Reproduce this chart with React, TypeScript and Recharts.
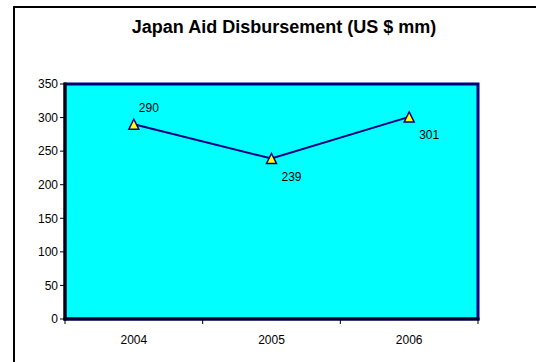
import { LineChart, Line, XAxis, YAxis, ReferenceArea } from 'recharts';

const years = ['2004', '2005', '2006'];
const disbursement = [290, 239, 301];
const yTicks = [0, 50, 100, 150, 200, 250, 300, 350];

const FONT = "'Liberation Sans', Arial, Helvetica, sans-serif";
const NAVY = '#000080';

const chartData = years.map((year, i) => ({ year, value: disbursement[i] }));

function TriangleDot(props: any) {
  const { cx, cy, index } = props;
  if (cx == null || cy == null) return null;
  const s = 5;
  const pts = `${cx},${cy - s} ${cx + s},${cy + s} ${cx - s},${cy + s}`;
  return <polygon key={`dot-${index}`} points={pts} fill="#ffff00" stroke={NAVY} strokeWidth={1.5} />;
}

function PointLabel(props: any) {
  const { x, y, value, index } = props;
  // first point's label sits above the marker, the rest sit below
  const above = index === 0;
  return (
    <text
      x={x + (above ? 5 : 10)}
      y={y + (above ? -12 : 22)}
      fontSize={12}
      fontFamily={FONT}
      fill="#000"
    >
      {value}
    </text>
  );
}

// category label in the band centre, tick marks on the band edges (Excel style)
function YearTick(props: any) {
  const { x, y, payload, index, width, visibleTicksCount } = props;
  const half = width / (2 * (visibleTicksCount || years.length));
  return (
    <g>
      {index === 0 && <line x1={x - half} x2={x - half} y1={y - 15} y2={y - 11} stroke="#000" />}
      <line x1={x + half} x2={x + half} y1={y - 15} y2={y - 11} stroke="#000" />
      <text x={x} y={y} dy="0.71em" textAnchor="middle" fontSize={12} fontFamily={FONT} fill="#000">
        {payload.value}
      </text>
    </g>
  );
}

export default function App() {
  return (
    <div
      style={{
        position: 'absolute',
        left: 0,
        top: 0,
        width: 536,
        height: 362,
        overflow: 'hidden',
        background: '#fff',
        fontFamily: FONT,
      }}
    >
      <div
        style={{
          position: 'absolute',
          left: 13,
          top: 6,
          width: 600,
          height: 500,
          border: '2px solid #000',
        }}
      />
      <div
        style={{
          position: 'absolute',
          left: 0,
          top: 17,
          width: 568,
          textAlign: 'center',
          fontSize: 18,
          fontWeight: 'bold',
          color: '#000',
        }}
      >
        Japan Aid Disbursement (US $ mm)
      </div>
      <LineChart
        width={536}
        height={362}
        data={chartData}
        margin={{ top: 84, right: 58, left: 0, bottom: 0 }}
        style={{ position: 'absolute', left: 0, top: 0 }}
      >
        <ReferenceArea
          x1={years[0]}
          x2={years[years.length - 1]}
          y1={0}
          y2={350}
          fill="#00ffff"
          fillOpacity={1}
          stroke={NAVY}
          strokeWidth={3}
        />
        <XAxis
          dataKey="year"
          scale="band"
          height={43}
          axisLine={{ stroke: '#00002a', strokeWidth: 3, strokeLinecap: 'square' }}
          tickLine={false}
          tickSize={0}
          tickMargin={16}
          tick={YearTick}
        />
        <YAxis
          domain={[0, 350]}
          ticks={yTicks}
          width={65}
          interval={0}
          axisLine={{ stroke: '#000010', strokeWidth: 3, strokeLinecap: 'square' }}
          tickLine={{ stroke: '#000', strokeWidth: 1 }}
          tickSize={5}
          tickMargin={2}
          tick={{ fill: '#000', fontSize: 12, fontFamily: FONT }}
        />
        <Line
          dataKey="value"
          type="linear"
          stroke={NAVY}
          strokeWidth={2}
          dot={TriangleDot}
          activeDot={false}
          label={PointLabel}
          isAnimationActive={false}
        />
      </LineChart>
    </div>
  );
}
